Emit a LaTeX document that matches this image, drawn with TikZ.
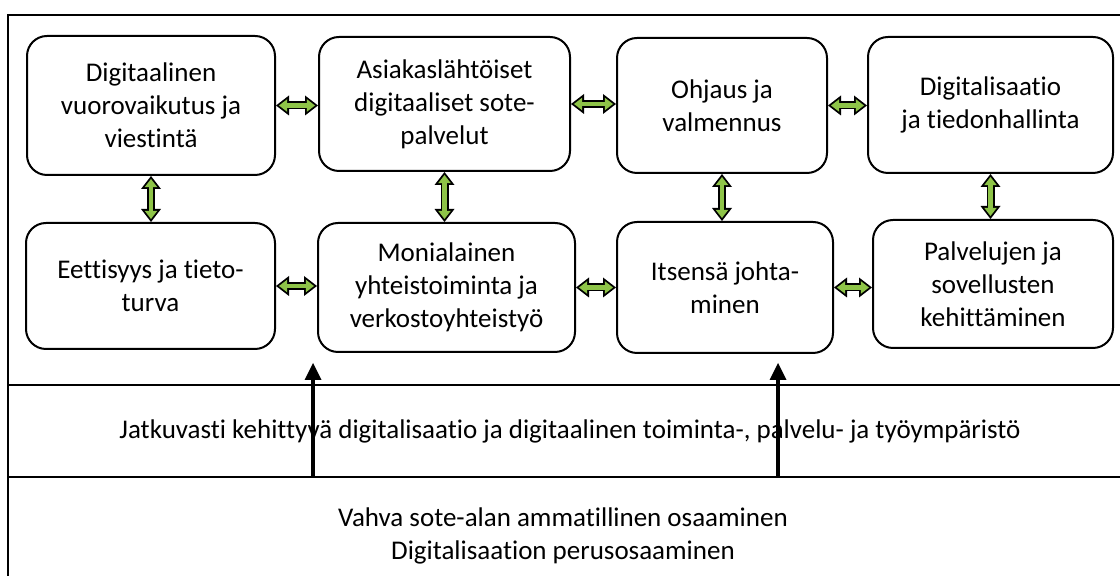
\documentclass[tikz,border=0pt]{standalone}
\usepackage{fontspec}
\setmainfont{Carlito}[Ligatures=NoCommon]
\usepackage{tikz}
\usetikzlibrary{arrows.meta}
\usetikzlibrary{scopes}
\usepackage{xcolor}

\tikzset{
  area/.style={rectangle,rounded corners=10pt,draw=black,line width=1pt,fill=white,align=center,inner sep=2pt},
  greenarrow/.style={draw=black,line width=4pt,
    {Triangle[length=6.5pt,width=10pt,line width=0pt]}-{Triangle[length=6.5pt,width=10pt,line width=0pt]},
    postaction={draw=lgreen,line width=2.2pt,shorten <=1.5pt,shorten >=1.5pt,
    {Triangle[length=4.1pt,width=6.3pt,line width=0pt]}-{Triangle[length=4.1pt,width=6.3pt,line width=0pt]}}},
  bigarrow/.style={draw=black,line width=2pt,-{Triangle[length=8.5pt,width=8.5pt,line width=0pt]}}
}

\begin{document}
\begin{tikzpicture}[x=0.5pt,y=-0.5pt,font=\fontsize{13.5}{16.5}\selectfont]

\definecolor{lgreen}{RGB}{142,196,72}

\useasboundingbox (0,0) rectangle (1120,576);
\clip (0,0) rectangle (1120,576);

%draw frame and bands
{[line width=1pt]
	\draw (8,600) -- (8,15) -- (1140,15);
	\draw (8,385) -- (1140,385);
	\draw (8,477) -- (1140,477);
}

%draw rectangles
\node[area,minimum width=124pt,minimum height=69.5pt] (b1) at (151,105.5) {Digitaalinen\\vuorovaikutus ja\\viestintä};
\node[area,minimum width=125.5pt,minimum height=67pt] (b2) at (444.5,104) {Asiakaslähtöiset\\digitaaliset sote-\\palvelut};
\node[area,minimum width=105pt,minimum height=67.5pt] (b3) at (722,105.5) {Ohjaus ja\\valmennus};
\node[area,minimum width=122.5pt,minimum height=68pt] (b4) at (990.5,105) {Digitalisaatio\\ja tiedonhallinta};

\node[area,minimum width=124.5pt,minimum height=63pt] (b5) at (150.5,286) {Eettisyys ja tieto-\\turva};
\node[area,minimum width=128.5pt,minimum height=64.5pt] (b6) at (446.5,287.5) {Monialainen\\yhteistoiminta ja\\verkostoyhteistyö};
\node[area,minimum width=108pt,minimum height=65.5pt] (b7) at (725,287.5) {Itsensä johta-\\minen};
\node[area,minimum width=120pt,minimum height=64pt] (b8) at (993,284) {Palvelujen ja\\sovellusten\\kehittäminen};

%bands
\node (mid) at (570,431) {Jatkuvasti kehittyvä digitalisaatio ja digitaalinen toiminta-, palvelu- ja työympäristö};
\node[align=center] (base) at (563,536) {Vahva sote-alan ammatillinen osaaminen\\Digitalisaation perusosaaminen};

% upper row
\draw[greenarrow] (b1.east) -- (b1.east -| b2.west);
\draw[greenarrow] (b2.east) -- (b2.east -| b3.west);
\draw[greenarrow] (b3.east) -- (b3.east -| b4.west);
% lower row
\draw[greenarrow] (b5.east) -- (b5.east -| b6.west);
\draw[greenarrow] (b6.east) -- (b6.east -| b7.west);
\draw[greenarrow] (b7.east) -- (b7.east -| b8.west);
% between rows
\draw[greenarrow] (b1.south) -- (b1.south |- b5.north);
\draw[greenarrow] (b2.south) -- (b2.south |- b6.north);
\draw[greenarrow] (b3.south) -- (b3.south |- b7.north);
\draw[greenarrow] (b4.south) -- (b4.south |- b8.north);

\coordinate (foot1) at (313,477);
\coordinate (head1) at (313,363);
\coordinate (foot2) at (778,477);
\coordinate (head2) at (778,363);

{[bigarrow]
	\draw (foot1) -- (head1);
	\draw (foot2) -- (head2);
}

\end{tikzpicture}
\end{document}
